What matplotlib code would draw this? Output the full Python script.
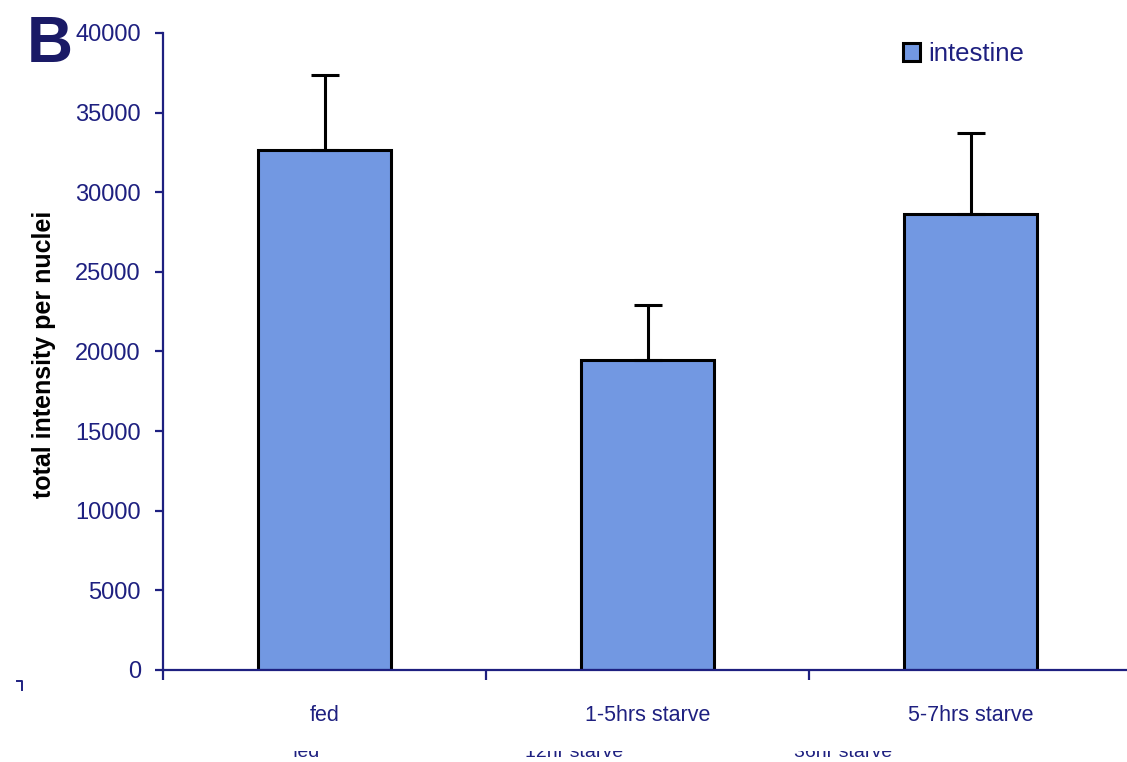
import matplotlib
matplotlib.use('Agg')
from matplotlib import pyplot as plt
from matplotlib.patches import Rectangle
from matplotlib.lines import Line2D
import numpy as np

conditions = ['fed', '1-5hrs starve', '5-7hrs starve']
intensity = [32650, 19450, 28650]
intensity_err = [4700, 3500, 5050]
old_labels = ['fed', '12hr starve', '36hr starve']

navy = '#1e2080'
bar_color = '#7298e2'

plt.rcParams['font.family'] = ['Liberation Sans', 'DejaVu Sans']

fig = plt.figure(figsize=(11.27, 7.62), dpi=100)
ax = fig.add_axes([163 / 1127, 1 - 670 / 762, 969 / 1127, 637 / 762])

x = np.arange(len(conditions))
ax.bar(x, intensity, width=0.41, color=bar_color, edgecolor='black',
       linewidth=2.2, label='intestine', zorder=2)
ax.errorbar(x, intensity, yerr=[[0] * len(x), intensity_err], fmt='none',
            ecolor='black', elinewidth=2.2, capsize=10, capthick=2.2, zorder=3)

ax.set_xlim(-0.5, 2.5)
ax.set_ylim(0, 40000)
ax.set_yticks(np.arange(0, 40001, 5000))
ax.set_xticks(x)
ax.set_xticklabels(conditions)
ax.set_xticks([-0.5, 0.5, 1.5, 2.5], minor=True)

for side in ['top', 'right']:
    ax.spines[side].set_visible(False)
for side in ['left', 'bottom']:
    ax.spines[side].set_color(navy)
    ax.spines[side].set_linewidth(1.6)

ax.tick_params(axis='y', direction='out', length=6, width=1.6, color=navy,
               labelcolor=navy, labelsize=17, pad=10)
ax.tick_params(axis='x', which='major', length=0, labelcolor=navy,
               labelsize=15.5, pad=25)
ax.tick_params(axis='x', which='minor', direction='out', length=7,
               width=1.6, color=navy)

ax.set_ylabel('total intensity per nuclei', fontsize=18, fontweight='bold')
ax.yaxis.set_label_coords(-0.110, 0.495)

ax.legend(loc='upper left', bbox_to_anchor=(903 / 1127, 1 - 42 / 762),
          bbox_transform=fig.transFigure, frameon=False, fontsize=18.5,
          labelcolor=navy, handlelength=0.65, handleheight=0.65,
          handletextpad=0.35, borderpad=0, borderaxespad=0)

fig.text(27 / 1127, 1 - 62 / 762, 'B', fontsize=46, fontweight='bold',
         color='#1a1a66', va='baseline', ha='left')

# leftover labels from an older version, mostly hidden below the axis
for cx, lab in zip([306, 574, 843], old_labels):
    fig.text(cx / 1127, 1 - 757 / 762, lab, fontsize=14, color=navy,
             ha='center', va='baseline', zorder=1)
fig.add_artist(Rectangle((0, 1 - 751 / 762), 1, 20 / 762,
                         transform=fig.transFigure, facecolor='white',
                         edgecolor='none', zorder=10))

# small stray tick at the far left
fig.add_artist(Line2D([17 / 1127, 22 / 1127, 22 / 1127],
                      [1 - 681 / 762, 1 - 681 / 762, 1 - 690 / 762],
                      transform=fig.transFigure, color=navy, linewidth=1.4))

fig.savefig('out.png', dpi=100)
plt.close(fig)
